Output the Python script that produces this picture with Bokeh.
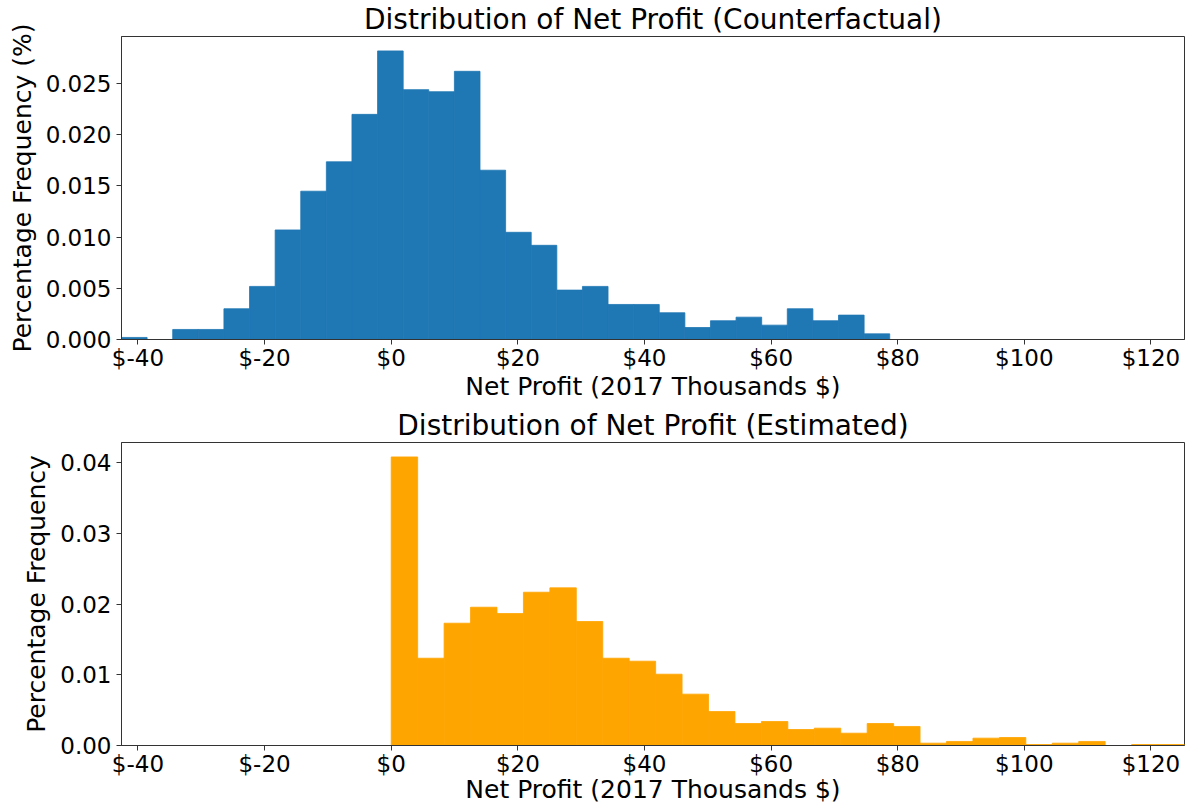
import numpy as np
from bokeh.plotting import figure
from bokeh.layouts import column
from bokeh.models import Range1d, FixedTicker, NumeralTickFormatter
from bokeh.embed import file_html
from bokeh.resources import INLINE

# ---- data ----
x_ticks = [-40, -20, 0, 20, 40, 60, 80, 100, 120]
x_tick_labels = ["$-40", "$-20", "$0", "$20", "$40", "$60", "$80", "$100", "$120"]

cf_min, cf_max = -42.6, 78.74
cf_freq = [0.0002, 0.0, 0.00098, 0.00098, 0.0030, 0.00518, 0.01069, 0.01447,
           0.01734, 0.02197, 0.02816, 0.02438, 0.02418, 0.02617, 0.01652, 0.01046,
           0.00919, 0.00482, 0.00518, 0.00342, 0.00342, 0.00261, 0.00117, 0.00183,
           0.00218, 0.0014, 0.0030, 0.00183, 0.00238, 0.00055]

est_min, est_max = 0.0, 125.3
est_freq = [0.0408, 0.01234, 0.01729, 0.01955, 0.01866, 0.02167, 0.02229, 0.01753,
            0.01234, 0.01192, 0.01008, 0.00726, 0.0048, 0.00311, 0.00339, 0.00226,
            0.00245, 0.00174, 0.00311, 0.00269, 0.00033, 0.00057, 0.00104, 0.00113,
            0.00014, 0.00033, 0.00057, 0.0, 0.00014, 0.00014]

top_yticks = [0.0, 0.005, 0.010, 0.015, 0.020, 0.025]
bot_yticks = [0.0, 0.01, 0.02, 0.03, 0.04]

xlabel = "Net Profit (2017 Thousands $)"

FONT = "DejaVu Sans"
AX_COLOR = "#333333"


def make_fig(title, ylabel, freq, lo, hi, color, yticks, yfmt,
             top_border, bottom_border, xlabel_standoff):
    xr = Range1d(cf_min, est_max)
    yr = Range1d(0, max(freq) * 1.05)
    p = figure(frame_width=1063, frame_height=303, output_backend="svg",
               toolbar_location=None, x_range=xr, y_range=yr,
               min_border_left=121, min_border_right=4,
               min_border_top=top_border, min_border_bottom=bottom_border)
    edges = np.linspace(lo, hi, len(freq) + 1)
    line_cols = [color if f > 0 else None for f in freq]
    p.quad(left=edges[:-1], right=edges[1:], bottom=0, top=freq,
           fill_color=color, line_color=line_cols, line_width=0.8)
    p.xgrid.visible = False
    p.ygrid.visible = False
    p.outline_line_color = AX_COLOR
    p.outline_line_width = 1
    p.background_fill_color = "white"
    p.border_fill_color = "white"

    p.title.text = title
    p.title.text_font = FONT
    p.title.text_font_size = "28px"
    p.title.text_font_style = "normal"
    p.title.text_color = "black"
    p.title.align = "center"
    p.title.standoff = 1

    xa = p.xaxis[0]
    xa.ticker = FixedTicker(ticks=x_ticks)
    xa.major_label_overrides = {t: l for t, l in zip(x_ticks, x_tick_labels)}
    xa.axis_label = xlabel
    xa.major_label_standoff = 0
    xa.axis_label_standoff = xlabel_standoff
    ya = p.yaxis[0]
    ya.ticker = FixedTicker(ticks=yticks)
    ya.formatter = NumeralTickFormatter(format=yfmt)
    ya.axis_label = ylabel
    ya.major_label_standoff = 5
    ya.axis_label_standoff = 6
    for ax in (xa, ya):
        ax.axis_line_color = AX_COLOR
        ax.major_tick_line_color = AX_COLOR
        ax.major_tick_out = 5
        ax.major_tick_in = 0
        ax.minor_tick_line_color = None
        ax.major_label_text_font = FONT
        ax.major_label_text_font_size = "23px"
        ax.major_label_text_color = "black"
        ax.axis_label_text_font = FONT
        ax.axis_label_text_font_size = "25px"
        ax.axis_label_text_font_style = "normal"
        ax.axis_label_text_color = "black"
    return p


p1 = make_fig("Distribution of Net Profit (Counterfactual)", "Percentage Frequency (%)",
              cf_freq, cf_min, cf_max, "#1f77b4", top_yticks, "0.000",
              36, 50, -2)
p2 = make_fig("Distribution of Net Profit (Estimated)", "Percentage Frequency",
              est_freq, est_min, est_max, "#ffa500", bot_yticks, "0.00",
              39, 50, -5)

layout = column(p1, p2, spacing=0)
open("out.html", "w").write(file_html(layout, INLINE))
